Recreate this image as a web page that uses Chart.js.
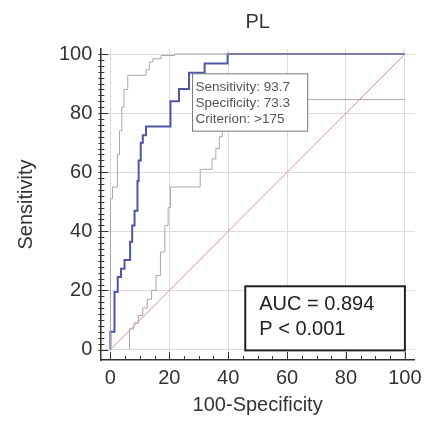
<!DOCTYPE html>
<html>
<head>
<meta charset="utf-8">
<script src="https://cdn.jsdelivr.net/npm/chart.js@4.4.1/dist/chart.umd.min.js"></script>
<style>
  html, body { margin: 0; padding: 0; background: #fff; }
</style>
</head>
<body>
<canvas id="rocChart" width="428" height="425"></canvas>
<script>
// ROC curve (100-Specificity, Sensitivity)
const rocFpr = [0, 0, 1.4, 1.4, 2.5, 2.5, 3.6, 3.6, 4.8, 4.8, 6.7, 6.7, 7.4, 7.4, 8.2, 8.2, 9.2, 9.2, 9.6, 9.6,
  10.3, 10.3, 11, 11, 12.1, 12.1, 20.4, 20.4, 23.3, 23.3, 26.7, 26.7, 32, 32, 39.8, 39.8, 100];
const rocTpr = [0, 6, 6, 19.5, 19.5, 24.5, 24.5, 27.3, 27.3, 30.3, 30.3, 36.5, 36.5, 42, 42, 47, 47, 57, 57, 64,
  64, 70, 70, 72.5, 72.5, 75.5, 75.5, 84, 84, 88.2, 88.2, 93.7, 93.7, 96.8, 96.8, 100, 100];

// upper confidence bound
const upperFpr = [0, 0, 0.7, 0.7, 2.4, 2.4, 3.1, 3.1, 3.9, 3.9, 4.6, 4.6, 5.9, 5.9, 12.1, 12.1, 13.3, 13.3,
  14.4, 14.4, 17.2, 17.2, 21.8, 21.8, 100];
const upperTpr = [0, 51, 51, 55, 55, 66, 66, 74, 74, 82, 82, 88, 88, 92.8, 92.8, 94.7, 94.7, 97.3,
  97.3, 98.4, 98.4, 99.5, 99.5, 100, 100];

// lower confidence bound
const lowerFpr = [6.5, 6.5, 8, 8, 9.5, 9.5, 11, 11, 12.5, 12.5, 14, 14, 15.5, 15.5, 17, 17, 18.5, 18.5,
  19.6, 19.6, 20.4, 20.4, 30.5, 30.5, 34.5, 34.5, 35.8, 35.8, 37, 37, 38, 38, 100];
const lowerTpr = [0, 7, 7, 9, 9, 11.5, 11.5, 14, 14, 17, 17, 20, 20, 25, 25, 33, 33, 42,
  42, 48, 48, 55, 55, 61, 61, 64.5, 64.5, 68, 68, 72, 72, 84.6, 84.6];

// reference diagonal
const diagFpr = [0, 100];
const diagTpr = [0, 100];

const tickValues = [0, 20, 40, 60, 80, 100];
const criterionLines = ['Sensitivity: 93.7', 'Specificity: 73.3', 'Criterion: >175'];
const aucLines = ['AUC = 0.894', 'P < 0.001'];

const FONT = 'Liberation Sans, Arial, sans-serif';
const toPoints = (xs, ys) => xs.map((x, i) => ({ x: x, y: ys[i] }));

// ticks pointing into the plot, majors every 20
const innerTicks = {
  id: 'innerTicks',
  afterDraw(chart) {
    const { ctx, chartArea, scales } = chart;
    ctx.save();
    ctx.strokeStyle = '#333';
    ctx.lineWidth = 1;
    ctx.beginPath();
    for (let v = 0; v <= 100; v += 5) {
      const px = Math.round(scales.x.getPixelForValue(v)) + 0.5;
      const len = v % 20 === 0 ? 8 : 4;
      ctx.moveTo(px, chartArea.bottom);
      ctx.lineTo(px, chartArea.bottom - len);
    }
    for (let v = 0; v <= 100; v += 2) {
      const py = Math.round(scales.y.getPixelForValue(v)) + 0.5;
      const len = v % 20 === 0 ? 8 : 4;
      ctx.moveTo(chartArea.left - 2, py);
      ctx.lineTo(chartArea.left + len, py);
    }
    ctx.stroke();
    ctx.restore();
  }
};

// the two text boxes, placed in data units
const textBoxes = {
  id: 'textBoxes',
  afterDatasetsDraw(chart) {
    const { ctx, scales } = chart;
    const drawBox = (x0, x1, y0, y1, lines, opt) => {
      const l = scales.x.getPixelForValue(x0), r = scales.x.getPixelForValue(x1);
      const t = scales.y.getPixelForValue(y1), b = scales.y.getPixelForValue(y0);
      ctx.save();
      ctx.fillStyle = '#fff';
      ctx.fillRect(l, t, r - l, b - t);
      ctx.strokeStyle = opt.border;
      ctx.lineWidth = opt.borderWidth;
      ctx.strokeRect(l, t, r - l, b - t);
      ctx.fillStyle = opt.color;
      ctx.font = opt.size + 'px ' + FONT;
      ctx.textBaseline = 'middle';
      lines.forEach((txt, i) => {
        ctx.fillText(txt, l + opt.padX, t + opt.firstY + i * opt.lineGap);
      });
      ctx.restore();
    };
    drawBox(27.9, 67, 73.9, 93.3, criterionLines,
      { border: '#777', borderWidth: 1, color: '#555', size: 13.5, padX: 3, firstY: 13, lineGap: 16 });
    drawBox(45.8, 100, -0.3, 21.4, aucLines,
      { border: '#222', borderWidth: 2, color: '#222', size: 20, padX: 14, firstY: 18, lineGap: 25 });
  }
};

const ctx = document.getElementById('rocChart').getContext('2d');
const rocChart = new Chart(ctx, {
  type: 'scatter',
  data: {
    datasets: [
      {
        label: 'diagonal',
        data: toPoints(diagFpr, diagTpr),
        showLine: true,
        borderColor: '#e09090',
        borderWidth: 1,
        pointRadius: 0
      },
      {
        label: 'lower',
        data: toPoints(lowerFpr, lowerTpr),
        showLine: true,
        borderColor: '#a8a8a8',
        borderWidth: 1,
        pointRadius: 0
      },
      {
        label: 'upper',
        data: toPoints(upperFpr, upperTpr),
        showLine: true,
        borderColor: '#a8a8a8',
        borderWidth: 1,
        pointRadius: 0
      },
      {
        label: 'PL',
        data: toPoints(rocFpr, rocTpr),
        showLine: true,
        borderColor: '#5054a6',
        borderWidth: 2,
        pointRadius: 0
      }
    ]
  },
  options: {
    responsive: false,
    animation: false,
    layout: { padding: { left: 14, right: 13, top: 0, bottom: 8 } },
    plugins: {
      legend: { display: false },
      tooltip: { enabled: false },
      title: {
        display: true,
        text: 'PL',
        fullSize: false,
        color: '#333',
        font: { family: FONT, size: 20, weight: 'normal' },
        padding: { top: 10, bottom: 15 }
      }
    },
    scales: {
      x: {
        type: 'linear',
        min: -3.4,
        max: 103.4,
        afterBuildTicks: s => { s.ticks = tickValues.map(v => ({ value: v })); },
        ticks: { color: '#333', font: { family: FONT, size: 20 }, padding: 6, autoSkip: false, maxRotation: 0 },
        grid: { color: '#dcdcdc', drawTicks: false },
        border: { color: '#333', width: 1.5 },
        title: {
          display: true,
          text: '100-Specificity',
          color: '#333',
          font: { family: FONT, size: 20 },
          padding: { top: -3, bottom: 0 }
        }
      },
      y: {
        type: 'linear',
        min: -3.55,
        max: 101.7,
        afterBuildTicks: s => { s.ticks = tickValues.map(v => ({ value: v })); },
        ticks: { color: '#333', font: { family: FONT, size: 20 }, padding: 8, autoSkip: false },
        grid: { color: '#dcdcdc', drawTicks: false },
        border: { color: '#333', width: 1.5 },
        title: {
          display: true,
          text: 'Sensitivity',
          color: '#333',
          font: { family: FONT, size: 20 },
          padding: { top: 0, bottom: 13 }
        }
      }
    }
  },
  plugins: [innerTicks, textBoxes]
});
</script>
</body>
</html>
